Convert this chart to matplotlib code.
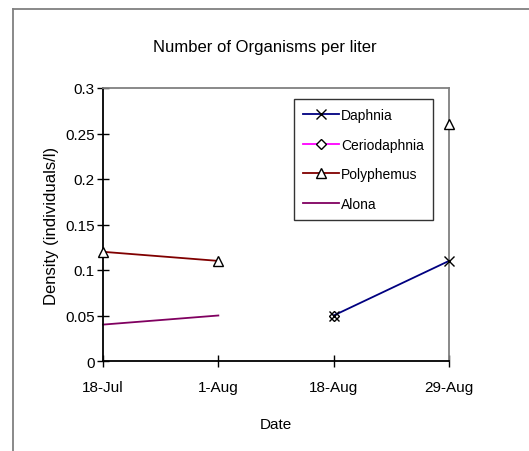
import numpy as np
import matplotlib
matplotlib.use("Agg")
import matplotlib.pyplot as plt
from matplotlib.lines import Line2D

plt.rcParams['font.family'] = ['Liberation Sans', 'DejaVu Sans']

dates = ["18-Jul", "1-Aug", "18-Aug", "29-Aug"]
daphnia = [np.nan, np.nan, 0.05, 0.11]
ceriodaphnia = [np.nan, np.nan, 0.05, np.nan]
polyphemus = [0.12, 0.11, np.nan, 0.26]
alona = [0.04, 0.05, np.nan, np.nan]

fig = plt.figure(figsize=(5.29, 4.52), dpi=100)
ax = fig.add_axes([103/529, 1-362/452, 346/529, 273/452])

x = np.arange(len(dates))
ax.plot(x, daphnia, color="#000080", lw=1.3, marker="x", ms=7, mec="black", mew=1.0,
        label="Daphnia", clip_on=False, zorder=4)
ax.plot(x, ceriodaphnia, color="#ff00ff", lw=1.3, marker="D", ms=5, mfc="white", mec="black", mew=1.0,
        label="Ceriodaphnia", clip_on=False, zorder=3)
ax.plot(x, polyphemus, color="#800000", lw=1.3, marker="^", ms=7, mfc="white", mec="black", mew=1.0,
        label="Polyphemus", clip_on=False, zorder=4)
ax.plot(x, alona, color="#800060", lw=1.3, label="Alona", clip_on=False)

ax.set_xlim(0, 3)
ax.set_ylim(0, 0.3)
ax.set_xticks(x)
ax.set_xticklabels(dates)
ax.set_yticks(np.arange(0, 0.31, 0.05))
ax.set_yticklabels(["0", "0.05", "0.1", "0.15", "0.2", "0.25", "0.3"])
ax.tick_params(direction="inout", length=8, width=1, labelsize=11)
ax.tick_params(axis="x", pad=10)
ax.tick_params(axis="y", pad=2)

for s in ["top", "right"]:
    ax.spines[s].set_color("#808080")
    ax.spines[s].set_linewidth(1.3)
for s in ["left", "bottom"]:
    ax.spines[s].set_color("black")
    ax.spines[s].set_linewidth(1.3)

ax.set_xlabel("Date", fontsize=11, labelpad=16)
ax.set_ylabel("Density (individuals/l)", fontsize=12, labelpad=4)
fig.text(0.5, 1-48/452, "Number of Organisms per liter", ha="center", va="center", fontsize=12)

leg = ax.legend(loc="upper right", bbox_to_anchor=(433/529, 1-100/452), bbox_transform=fig.transFigure,
                frameon=True, fancybox=False, edgecolor="black", fontsize=10, handlelength=2.6,
                labelspacing=1.12, borderpad=0.65, borderaxespad=0, handletextpad=0.15)
leg.get_frame().set_linewidth(1.0)

# outer chart border (left and top only visible)
fig.add_artist(Line2D([13/529, 13/529], [0, 1-10/452], color="#808080", lw=1.3))
fig.add_artist(Line2D([13/529, 1], [1-10/452, 1-10/452], color="#808080", lw=1.3))

fig.savefig("out.png", dpi=100)
